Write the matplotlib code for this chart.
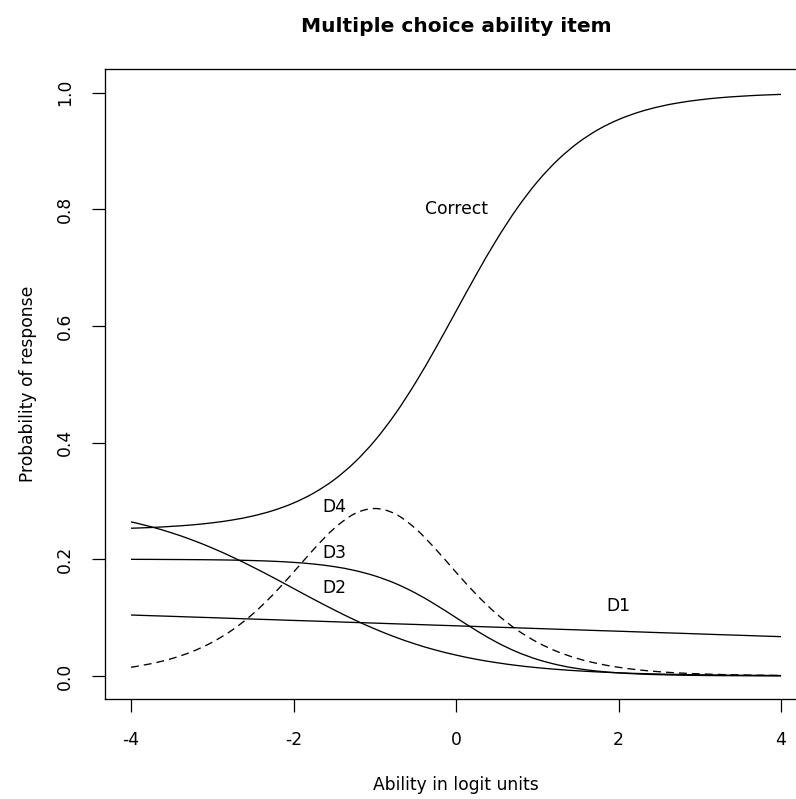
import matplotlib
matplotlib.use("Agg")
import matplotlib.pyplot as plt
from matplotlib.path import Path
from matplotlib.patches import PathPatch

# ability grid (logit units)
ability = [-4.0, -3.75, -3.5, -3.25, -3.0, -2.75, -2.5, -2.25, -2.0, -1.75, -1.5,
           -1.25, -1.0, -0.75, -0.5, -0.25, 0.0, 0.25, 0.5, 0.75, 1.0, 1.25, 1.5,
           1.75, 2.0, 2.25, 2.5, 2.75, 3.0, 3.25, 3.5, 3.75, 4.0]

correct = [0.2532, 0.2545, 0.2564, 0.2589, 0.2625, 0.2674, 0.2742, 0.2836, 0.2964,
           0.3136, 0.3363, 0.3659, 0.4032, 0.4488, 0.5022, 0.5619, 0.6250, 0.6881,
           0.7478, 0.8012, 0.8468, 0.8841, 0.9137, 0.9365, 0.9536, 0.9664, 0.9758,
           0.9826, 0.9875, 0.9911, 0.9936, 0.9955, 0.9968]

d1 = [0.1045, 0.1033, 0.1022, 0.1010, 0.0999, 0.0987, 0.0975, 0.0964, 0.0952,
      0.0941, 0.0929, 0.0917, 0.0906, 0.0894, 0.0883, 0.0871, 0.0860, 0.0848,
      0.0836, 0.0825, 0.0813, 0.0801, 0.0790, 0.0778, 0.0767, 0.0755, 0.0743,
      0.0732, 0.0720, 0.0708, 0.0697, 0.0685, 0.0674]

d2 = [0.2642, 0.2556, 0.2453, 0.2332, 0.2193, 0.2037, 0.1867, 0.1687, 0.1500,
      0.1313, 0.1133, 0.0962, 0.0807, 0.0668, 0.0547, 0.0444, 0.0358, 0.0286,
      0.0228, 0.0180, 0.0142, 0.0112, 0.0088, 0.0069, 0.0054, 0.0042, 0.0033,
      0.0026, 0.0020, 0.0016, 0.0012, 0.0010, 0.0007]

d3 = [0.1999, 0.1998, 0.1996, 0.1994, 0.1991, 0.1986, 0.1978, 0.1966, 0.1947,
      0.1918, 0.1874, 0.1809, 0.1716, 0.1588, 0.1422, 0.1221, 0.1000, 0.0779,
      0.0578, 0.0412, 0.0284, 0.0191, 0.0126, 0.0082, 0.0053, 0.0034, 0.0022,
      0.0014, 0.0009, 0.0006, 0.0004, 0.0002, 0.0001]

d4 = [0.0149, 0.0211, 0.0297, 0.0416, 0.0578, 0.0791, 0.1064, 0.1397, 0.1778,
      0.2173, 0.2528, 0.2779, 0.2870, 0.2779, 0.2528, 0.2173, 0.1778, 0.1397,
      0.1064, 0.0791, 0.0578, 0.0416, 0.0297, 0.0211, 0.0149, 0.0104, 0.0073,
      0.0051, 0.0036, 0.0025, 0.0018, 0.0012, 0.0009]

# curve labels
etiquetas = ["Correct", "D4", "D3", "D2", "D1"]
etiq_x = [0.0, -1.5, -1.5, -1.5, 2.0]
etiq_y = [0.8, 0.29, 0.21, 0.15, 0.12]

x_ticks = [-4, -2, 0, 2, 4]
y_ticks = [0.0, 0.2, 0.4, 0.6, 0.8, 1.0]


def curva_suave(ax, xs, ys, **kw):
    """Dibuja una curva suave (Bezier) que pasa por los puntos dados."""
    n = len(xs)
    verts = [(xs[0], ys[0])]
    codes = [Path.MOVETO]
    for i in range(n - 1):
        xa, ya = (xs[i - 1], ys[i - 1]) if i > 0 else (xs[i], ys[i])
        xb, yb = (xs[i + 2], ys[i + 2]) if i + 2 < n else (xs[i + 1], ys[i + 1])
        c1 = (xs[i] + (xs[i + 1] - xa) / 6, ys[i] + (ys[i + 1] - ya) / 6)
        c2 = (xs[i + 1] - (xb - xs[i]) / 6, ys[i + 1] - (yb - ys[i]) / 6)
        verts += [c1, c2, (xs[i + 1], ys[i + 1])]
        codes += [Path.CURVE4] * 3
    ax.add_patch(PathPatch(Path(verts, codes), fill=False, edgecolor="black", **kw))


plt.rcParams["font.family"] = ["DejaVu Sans"]
plt.rcParams["axes.unicode_minus"] = False

fig = plt.figure(figsize=(7.96, 7.99), dpi=100)
ax = fig.add_axes([105 / 796, 99.7 / 799, 702 / 796, 630.1 / 799])

curva_suave(ax, ability, correct, lw=0.95)
curva_suave(ax, ability, d1, lw=0.95)
curva_suave(ax, ability, d2, lw=0.95)
curva_suave(ax, ability, d3, lw=0.95)
curva_suave(ax, ability, d4, lw=0.95, linestyle=(0, (6.0, 3.8)))

for txt, xx, yy in zip(etiquetas, etiq_x, etiq_y):
    ax.text(xx, yy, txt, ha="center", va="center", fontsize=12.3)

ax.set_xlim(-4.32, 4.32)
ax.set_ylim(-0.04, 1.04)

ax.set_xticks(x_ticks)
ax.set_xticklabels([str(t) for t in x_ticks])
ax.set_yticks(y_ticks)
ax.set_yticklabels([f"{t:.1f}" for t in y_ticks], rotation=90, va="center")
ax.tick_params(direction="out", length=9.1, width=0.9, labelsize=12.3)
ax.tick_params(axis="x", pad=14)
ax.tick_params(axis="y", pad=13.3)

for s in ax.spines.values():
    s.set_linewidth(0.95)
ax.spines["right"].set_visible(False)

ax.set_xlabel("Ability in logit units", fontsize=12.3, labelpad=19)
ax.set_ylabel("Probability of response", fontsize=12.3, labelpad=13.8)
ax.set_title("Multiple choice ability item", fontsize=14.5, fontweight="bold", pad=27)

plt.savefig("out.png", dpi=100)
plt.close()
